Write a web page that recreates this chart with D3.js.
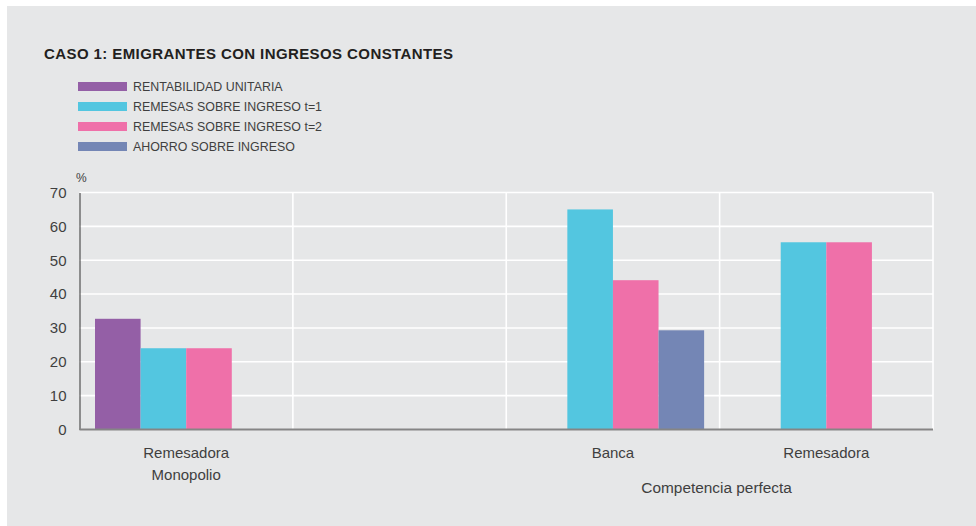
<!DOCTYPE html>
<html>
<head>
<meta charset="utf-8">
<script src="https://cdn.jsdelivr.net/npm/d3@7"></script>
<style>
  html, body { margin: 0; padding: 0; background: #ffffff; }
  svg { display: block; }
  text { font-family: "Liberation Sans", Arial, Helvetica, sans-serif; }
</style>
</head>
<body>
<script>
// ---- data ----
const title = "CASO 1: EMIGRANTES CON INGRESOS CONSTANTES";
const categories = ["Remesadora|Monopolio", "", "Banca", "Remesadora"];
const seriesNames = ["RENTABILIDAD UNITARIA", "REMESAS SOBRE INGRESO t=1", "REMESAS SOBRE INGRESO t=2", "AHORRO SOBRE INGRESO"];
const seriesColors = ["#945fa6", "#53c6e0", "#ef70a9", "#7486b5"];
const rentabilidad = [32.7, null, null, null];
const remesas1 = [24.0, null, 65.0, 55.3];
const remesas2 = [24.0, null, 44.1, 55.3];
const ahorro = [null, null, 29.3, null];
const seriesValues = [rentabilidad, remesas1, remesas2, ahorro];
const yTicks = [0, 10, 20, 30, 40, 50, 60, 70];
const groupLabel = "Competencia perfecta";
const groupSpan = [2, 3];
const unitLabel = "%";

// ---- layout ----
const W = 976, H = 526;
const svg = d3.select("body").append("svg").attr("width", W).attr("height", H);
svg.append("rect").attr("x", 7).attr("y", 6).attr("width", W - 7).attr("height", H - 6).attr("fill", "#e6e7e8");

const pLeft = 79.5, pRight = 933, pTop = 192.5, pBottom = 429.5;
const idx = categories.map((d, i) => i);
const x0 = d3.scaleBand().domain(idx).range([pLeft, pRight]).padding(0);
const x1 = d3.scaleBand().domain(d3.range(seriesNames.length)).range([0, x0.bandwidth()]).paddingInner(0).paddingOuter(0.34);
const y = d3.scaleLinear().domain([0, 70]).range([pBottom, pTop]);

const textColor = "#3f3f3f";

// title (stretched to the reference width of ~409px)
const tt = svg.append("text").attr("x", 44).attr("y", 59).attr("font-size", 15).attr("font-weight", "bold")
  .attr("fill", "#231f20").text(title);
const tl = tt.node().getComputedTextLength();
tt.attr("letter-spacing", Math.max(0, (409 - tl) / (title.length - 1)));

// legend
const lg = svg.append("g");
seriesNames.forEach((s, i) => {
  const yy = 82 + i * 20;
  lg.append("rect").attr("x", 78).attr("y", yy).attr("width", 49).attr("height", 9).attr("fill", seriesColors[i]);
  lg.append("text").attr("x", 133).attr("y", yy + 9).attr("font-size", 12.4).attr("fill", textColor).text(s);
});

// horizontal grid
svg.append("g").selectAll("line").data(yTicks.filter(t => t > 0)).join("line")
  .attr("x1", pLeft).attr("x2", pRight).attr("y1", d => y(d)).attr("y2", d => y(d))
  .attr("stroke", "#ffffff").attr("stroke-width", 1.6);
// vertical grid at band boundaries
svg.append("g").selectAll("line").data(idx).join("line")
  .attr("x1", d => x0(d) + x0.bandwidth()).attr("x2", d => x0(d) + x0.bandwidth())
  .attr("y1", pTop).attr("y2", pBottom)
  .attr("stroke", "#ffffff").attr("stroke-width", 1.6);

// bars
const bars = [];
idx.forEach(ci => seriesValues.forEach((arr, si) => {
  if (arr[ci] != null) bars.push({ ci, si, v: arr[ci] });
}));
svg.append("g").selectAll("rect").data(bars).join("rect")
  .attr("x", d => x0(d.ci) + x1(d.si))
  .attr("width", x1.bandwidth())
  .attr("y", d => y(d.v))
  .attr("height", d => y(0) - y(d.v))
  .attr("fill", d => seriesColors[d.si]);

// y axis
const yAxis = d3.axisLeft(y).tickValues(yTicks).tickSize(0).tickPadding(13);
const ya = svg.append("g").attr("transform", `translate(${pLeft},0)`).call(yAxis);
ya.select(".domain").attr("stroke", "#333333").attr("stroke-width", 1);
ya.selectAll("text").attr("font-size", 15).attr("fill", textColor)
  .style("font-family", "'Liberation Sans', Arial, sans-serif");

// bottom axis line
svg.append("line").attr("x1", pLeft).attr("x2", pRight).attr("y1", pBottom).attr("y2", pBottom)
  .attr("stroke", "#858585").attr("stroke-width", 2);

// unit label
svg.append("text").attr("x", 76).attr("y", 182).attr("font-size", 12).attr("fill", textColor).text(unitLabel);

// category labels
idx.forEach(ci => {
  const lines = categories[ci].split("|").filter(s => s.length);
  lines.forEach((l, li) => {
    svg.append("text").attr("x", x0(ci) + x0.bandwidth() / 2).attr("y", 458 + li * 22)
      .attr("text-anchor", "middle").attr("font-size", 15).attr("fill", textColor).text(l);
  });
});
// group label
const gx = (x0(groupSpan[0]) + x0(groupSpan[1]) + x0.bandwidth()) / 2;
svg.append("text").attr("x", gx - 3).attr("y", 493).attr("text-anchor", "middle")
  .attr("font-size", 15.4).attr("fill", textColor).text(groupLabel);
</script>
</body>
</html>
